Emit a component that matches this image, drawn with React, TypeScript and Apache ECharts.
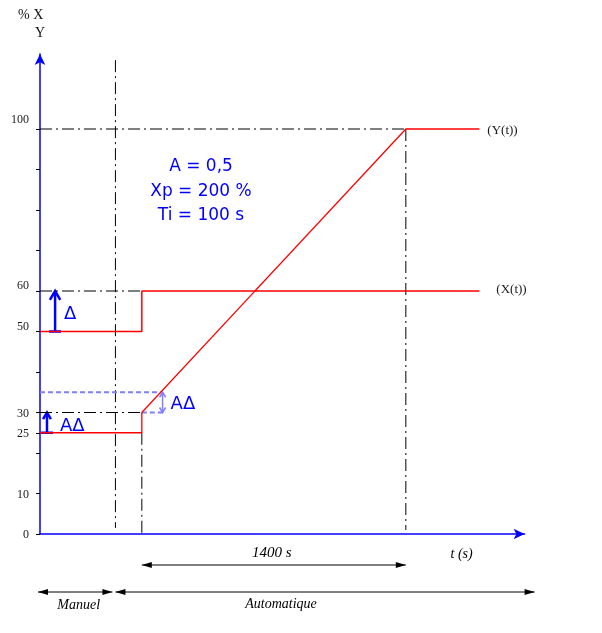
import React, { useEffect, useRef } from 'react';
import * as echarts from 'echarts';

// ---- data ----
const yTickValues = [0, 10, 20, 25, 30, 40, 50, 60, 70, 80, 90, 100];
const yLabelValues = [0, 10, 25, 30, 50, 60, 100];
const xMax = 2570;
const yMax = 118.5;

const tSwitch = 400; // manuel -> automatique
const tStep = 540; // step of X
const tRampEnd = 1940; // tStep + 1400 s
const tEnd = 2330;

const xSignalT = [0, tStep, tStep, tEnd];
const xSignalV = [50, 50, 60, 60];
const ySignalT = [0, tStep, tStep, tRampEnd, tEnd];
const ySignalV = [25, 25, 30, 100, 100];

const guideLines: number[][][] = [
  [[0, 100], [tRampEnd, 100]],
  [[0, 60], [tStep, 60]],
  [[0, 30], [tStep, 30]],
  [[tSwitch, 117], [tSwitch, 1.5]],
  [[tStep, 25], [tStep, 0]],
  [[tRampEnd, 100], [tRampEnd, 1]],
];

const rampDeltaLevel = [30, 35];
const rampDeltaT = 640; // where ramp crosses 35
const rampArrowT = 650;
const rampLowEndT = 668;

const deltaArrowT = 80; // Δ arrow position
const deltaArrowV = [50, 60];
const aDeltaArrowT = 37;
const aDeltaArrowV = [25, 30];

const paramLines = ['A = 0,5', 'Xp = 200 %', 'Ti = 100 s'];

export default function App() {
  const ref = useRef<HTMLDivElement>(null);
  useEffect(() => {
    const chart = echarts.init(ref.current!, null, { renderer: 'svg' });
    const dashDot = [12, 4, 2, 4];
    const serif = 'Liberation Serif';
    const sans = 'DejaVu Sans';
    const blue = '#0000ff';
    const lightBlue = '#7f7fff';

    const guideSeries = guideLines.map((g) => ({
      type: 'line',
      data: g,
      symbol: 'none',
      silent: true,
      z: 1,
      lineStyle: { color: '#000', width: 1, type: dashDot },
    }));

    const option: any = {
      animation: false,
      grid: { left: 40, top: 534 - yMax * 4.05, width: (xMax * 264) / 1400, height: yMax * 4.05, containLabel: false },
      xAxis: {
        type: 'value',
        min: 0,
        max: xMax,
        axisLine: { show: true, lineStyle: { color: blue, width: 1.5 }, symbol: ['none', 'arrow'], symbolSize: [8, 11] },
        axisTick: { show: false },
        axisLabel: { show: false },
        splitLine: { show: false },
      },
      yAxis: {
        type: 'value',
        min: 0,
        max: yMax,
        axisLine: { show: true, lineStyle: { color: blue, width: 1.5 }, symbol: ['none', 'arrow'], symbolSize: [8, 11] },
        axisTick: { show: true, customValues: yTickValues, length: 4, lineStyle: { color: '#000', width: 1 } },
        axisLabel: {
          customValues: yLabelValues,
          margin: 11,
          color: '#1a1a1a',
          fontFamily: serif,
          fontSize: 12,
          formatter: (v: number) => (v === 100 ? `{a|${v}}` : v === 60 || v === 50 ? `{b|${v}}` : `${v}`),
          rich: {
            a: { padding: [0, 0, 20, 0], fontFamily: serif, fontSize: 12, color: '#1a1a1a' },
            b: { padding: [0, 0, 12, 0], fontFamily: serif, fontSize: 12, color: '#1a1a1a' },
          },
        },
        splitLine: { show: false },
      },
      series: [
        ...guideSeries,
        {
          type: 'line',
          data: [[0, rampDeltaLevel[1]], [rampDeltaT, rampDeltaLevel[1]]],
          symbol: 'none',
          z: 2,
          lineStyle: { color: lightBlue, width: 2, type: [5, 3] },
        },
        {
          type: 'line',
          data: [[tStep, rampDeltaLevel[0]], [rampLowEndT, rampDeltaLevel[0]]],
          symbol: 'none',
          z: 2,
          lineStyle: { color: lightBlue, width: 2, type: [5, 3] },
        },
        {
          type: 'line',
          name: 'X(t)',
          data: xSignalT.map((t, i) => [t, xSignalV[i]]),
          symbol: 'none',
          z: 3,
          lineStyle: { color: '#ff0000', width: 1.5 },
          endLabel: {
            show: true,
            formatter: '(X(t))',
            distance: 17,
            offset: [0, -3],
            fontFamily: serif,
            fontSize: 13,
            color: '#1a1a1a',
          },
        },
        {
          type: 'line',
          name: 'Y(t)',
          data: ySignalT.map((t, i) => [t, ySignalV[i]]),
          symbol: 'none',
          z: 3,
          lineStyle: { color: '#ff0000', width: 1.3 },
          endLabel: {
            show: true,
            formatter: '(Y(t))',
            distance: 8,
            fontFamily: serif,
            fontSize: 13,
            color: '#1a1a1a',
          },
        },
      ],
    };
    chart.setOption(option);

    const px = (t: number, v: number) => chart.convertToPixel({ xAxisIndex: 0, yAxisIndex: 0 }, [t, v]) as number[];
    const els: any[] = [];

    // axis title
    els.push({ type: 'text', left: 18, top: 7, style: { text: '% X', font: `14px "${serif}"`, fill: '#111' } });
    els.push({ type: 'text', left: 35, top: 25, style: { text: 'Y', font: `14px "${serif}"`, fill: '#111' } });

    // parameters
    paramLines.forEach((s, i) => {
      els.push({
        type: 'text',
        x: 201,
        y: 165 + i * 24.5,
        style: { text: s, font: `17px "${sans}"`, fill: blue, align: 'center', verticalAlign: 'middle' },
      });
    });

    // vertical arrows with base bar
    const upArrow = (t: number, v0: number, v1: number, head: number, bar: number, w: number) => {
      const [x, yb] = px(t, v0);
      const [, yt] = px(t, v1);
      els.push({ type: 'line', shape: { x1: x, y1: yb, x2: x, y2: yt + 1 }, style: { stroke: blue, lineWidth: w } });
      els.push({ type: 'line', shape: { x1: x - bar, y1: yb, x2: x + bar, y2: yb }, style: { stroke: blue, lineWidth: w } });
      els.push({
        type: 'polyline',
        shape: { points: [[x - head * 0.65, yt + head * 1.1], [x, yt], [x + head * 0.65, yt + head * 1.1]] },
        style: { stroke: blue, lineWidth: w, fill: 'none' },
      });
      return [x, (yb + yt) / 2];
    };
    const [dx, dy] = upArrow(deltaArrowT, deltaArrowV[0], deltaArrowV[1], 8, 6, 2.5);
    els.push({ type: 'text', x: dx + 9, y: dy + 1, style: { text: 'Δ', font: `18px "${sans}"`, fill: blue, verticalAlign: 'middle' } });
    const [ax, ay] = upArrow(aDeltaArrowT, aDeltaArrowV[0], aDeltaArrowV[1], 6, 6, 2.5);
    els.push({ type: 'text', x: ax + 13, y: ay + 2, style: { text: 'AΔ', font: `18px "${sans}"`, fill: blue, verticalAlign: 'middle' } });

    // ramp AΔ double arrow
    {
      const [x, yb] = px(rampArrowT, rampDeltaLevel[0]);
      const [, yt] = px(rampArrowT, rampDeltaLevel[1]);
      els.push({ type: 'line', shape: { x1: x, y1: yb, x2: x, y2: yt }, style: { stroke: lightBlue, lineWidth: 1.5 } });
      els.push({ type: 'polyline', shape: { points: [[x - 3, yt + 5], [x, yt], [x + 3, yt + 5]] }, style: { stroke: lightBlue, lineWidth: 1.5, fill: 'none' } });
      els.push({ type: 'polyline', shape: { points: [[x - 3, yb - 5], [x, yb], [x + 3, yb - 5]] }, style: { stroke: lightBlue, lineWidth: 1.5, fill: 'none' } });
      els.push({ type: 'text', x: x + 8, y: (yb + yt) / 2, style: { text: 'AΔ', font: `18px "${sans}"`, fill: blue, verticalAlign: 'middle' } });
    }

    // dimension arrows
    const dimArrow = (x1: number, x2: number, y: number) => {
      els.push({ type: 'line', shape: { x1, y1: y, x2, y2: y }, style: { stroke: '#000', lineWidth: 1 } });
      els.push({ type: 'polygon', shape: { points: [[x1, y], [x1 + 10, y - 3], [x1 + 10, y + 3]] }, style: { fill: '#000' } });
      els.push({ type: 'polygon', shape: { points: [[x2, y], [x2 - 10, y - 3], [x2 - 10, y + 3]] }, style: { fill: '#000' } });
    };
    const [, y0] = px(0, 0);
    const [xs] = px(tStep, 0);
    const [xr] = px(tRampEnd, 0);
    const [xw] = px(tSwitch, 0);
    const [x0] = px(0, 0);
    const [xAxEnd] = px(xMax, 0);
    dimArrow(xs, xr, y0 + 31);
    els.push({ type: 'text', x: (xs + xr) / 2 - 2, y: y0 + 18, style: { text: '1400 s', font: `italic 15px "${serif}"`, fill: '#000', align: 'center', verticalAlign: 'middle' } });
    els.push({ type: 'text', x: xAxEnd - 63, y: y0 + 19, style: { text: 't (s)', font: `italic 14px "${serif}"`, fill: '#000', align: 'center', verticalAlign: 'middle' } });
    dimArrow(x0 - 2, xw - 3, y0 + 58);
    dimArrow(xw, xAxEnd + 10, y0 + 58);
    els.push({ type: 'text', x: (x0 + xw) / 2 + 1, y: y0 + 70, style: { text: 'Manuel', font: `italic 14px "${serif}"`, fill: '#000', align: 'center', verticalAlign: 'middle' } });
    els.push({ type: 'text', x: 281, y: y0 + 69, style: { text: 'Automatique', font: `italic 14px "${serif}"`, fill: '#000', align: 'center', verticalAlign: 'middle' } });

    chart.setOption({ graphic: els });
    return () => chart.dispose();
  }, []);
  return <div ref={ref} style={{ position: 'fixed', left: 0, top: 0, width: 602, height: 633 }} />;
}
